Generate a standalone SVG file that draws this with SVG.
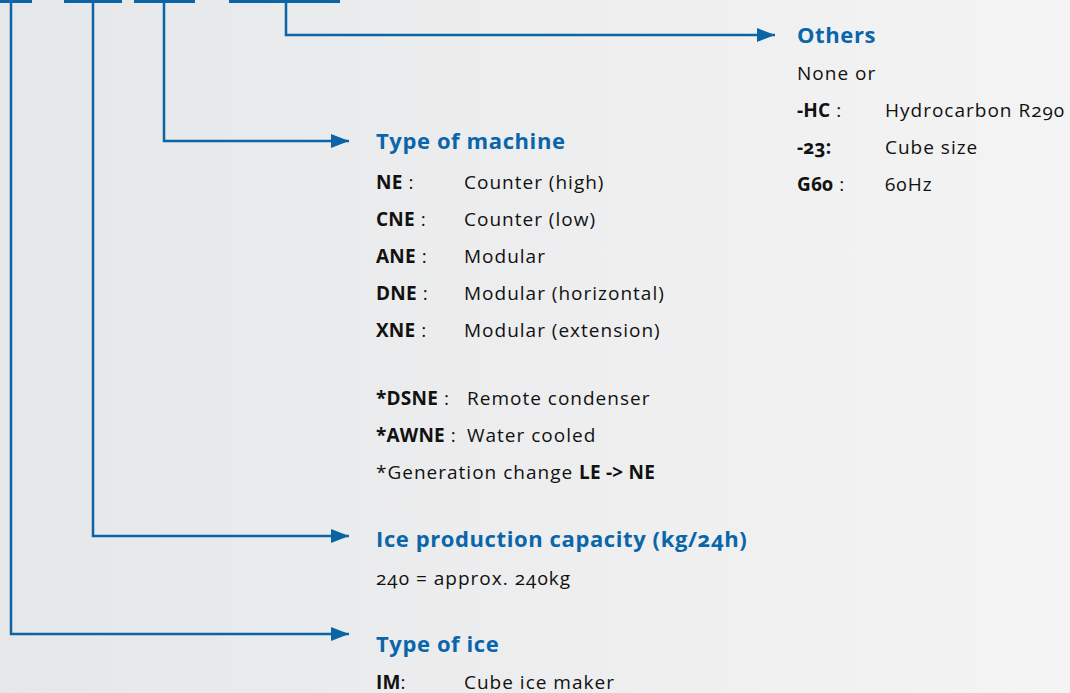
<svg xmlns="http://www.w3.org/2000/svg" width="1070" height="693" viewBox="0 0 1070 693">
<defs>
<linearGradient id="bg" x1="0" y1="0" x2="1" y2="0">
<stop offset="0" stop-color="#e6e7e8"/>
<stop offset="1" stop-color="#f4f4f5"/>
</linearGradient>
<marker id="arr" viewBox="0 0 18 14" refX="18" refY="7" markerWidth="18" markerHeight="14" markerUnits="userSpaceOnUse" orient="auto">
<path d="M0,0 L18,7 L0,14 Z" fill="#0a64a6"/>
</marker>
<style>
.ln{fill:none;stroke:#0a64a6;stroke-width:2.5}
.bar{fill:#0a64a6}
text{font-family:"Open Sans","Noto Sans",sans-serif;fill:#111;font-size:19px;letter-spacing:1px;font-feature-settings:"onum"}
.h{font-weight:bold;fill:#0a66aa;font-size:22px;letter-spacing:0.6px}
.b{font-weight:bold;letter-spacing:0.2px}
</style>
</defs>
<rect width="1070" height="693" fill="url(#bg)"/>
<g id="code-bars">
<rect class="bar" x="0" y="0" width="32" height="3"/>
<rect class="bar" x="64" y="0" width="58" height="3"/>
<rect class="bar" x="134" y="0" width="61" height="3"/>
<rect class="bar" x="229" y="0" width="111" height="3"/>
</g>
<g id="connectors">
<path class="ln" d="M286,2 V35 H775" marker-end="url(#arr)"/>
<path class="ln" d="M164,2 V141 H349" marker-end="url(#arr)"/>
<path class="ln" d="M93,2 V536 H349" marker-end="url(#arr)"/>
<path class="ln" d="M11,2 V634 H349" marker-end="url(#arr)"/>
</g>
<g id="others">
<text class="h" x="797" y="43">Others</text>
<text x="797" y="80">None or</text>
<text x="797" y="117"><tspan class="b">-HC</tspan> :</text><text x="885" y="117">Hydrocarbon R290</text>
<text x="797" y="154" class="b">-23:</text><text x="885" y="154">Cube size</text>
<text x="797" y="191"><tspan class="b">G60</tspan> :</text><text x="885" y="191">60Hz</text>
</g>
<g id="type-of-machine">
<text class="h" x="376" y="149">Type of machine</text>
<text x="376" y="189"><tspan class="b">NE</tspan> :</text><text x="464" y="189">Counter (high)</text>
<text x="376" y="226"><tspan class="b">CNE</tspan> :</text><text x="464" y="226">Counter (low)</text>
<text x="376" y="263"><tspan class="b">ANE</tspan> :</text><text x="464" y="263">Modular</text>
<text x="376" y="300"><tspan class="b">DNE</tspan> :</text><text x="464" y="300">Modular (horizontal)</text>
<text x="376" y="337"><tspan class="b">XNE</tspan> :</text><text x="464" y="337">Modular (extension)</text>
<text x="376" y="405"><tspan class="b">*DSNE</tspan> :</text><text x="467" y="405">Remote condenser</text>
<text x="376" y="442"><tspan class="b">*AWNE</tspan> :</text><text x="467" y="442">Water cooled</text>
<text x="376" y="479">*Generation change <tspan class="b">LE -&gt; NE</tspan></text>
</g>
<g id="capacity">
<text class="h" x="376" y="547">Ice production capacity (kg/24h)</text>
<text x="376" y="585">240 = approx. 240kg</text>
</g>
<g id="type-of-ice">
<text class="h" x="376" y="652">Type of ice</text>
<text x="376" y="689"><tspan class="b">IM</tspan>:</text><text x="464" y="689">Cube ice maker</text>
</g>
</svg>
